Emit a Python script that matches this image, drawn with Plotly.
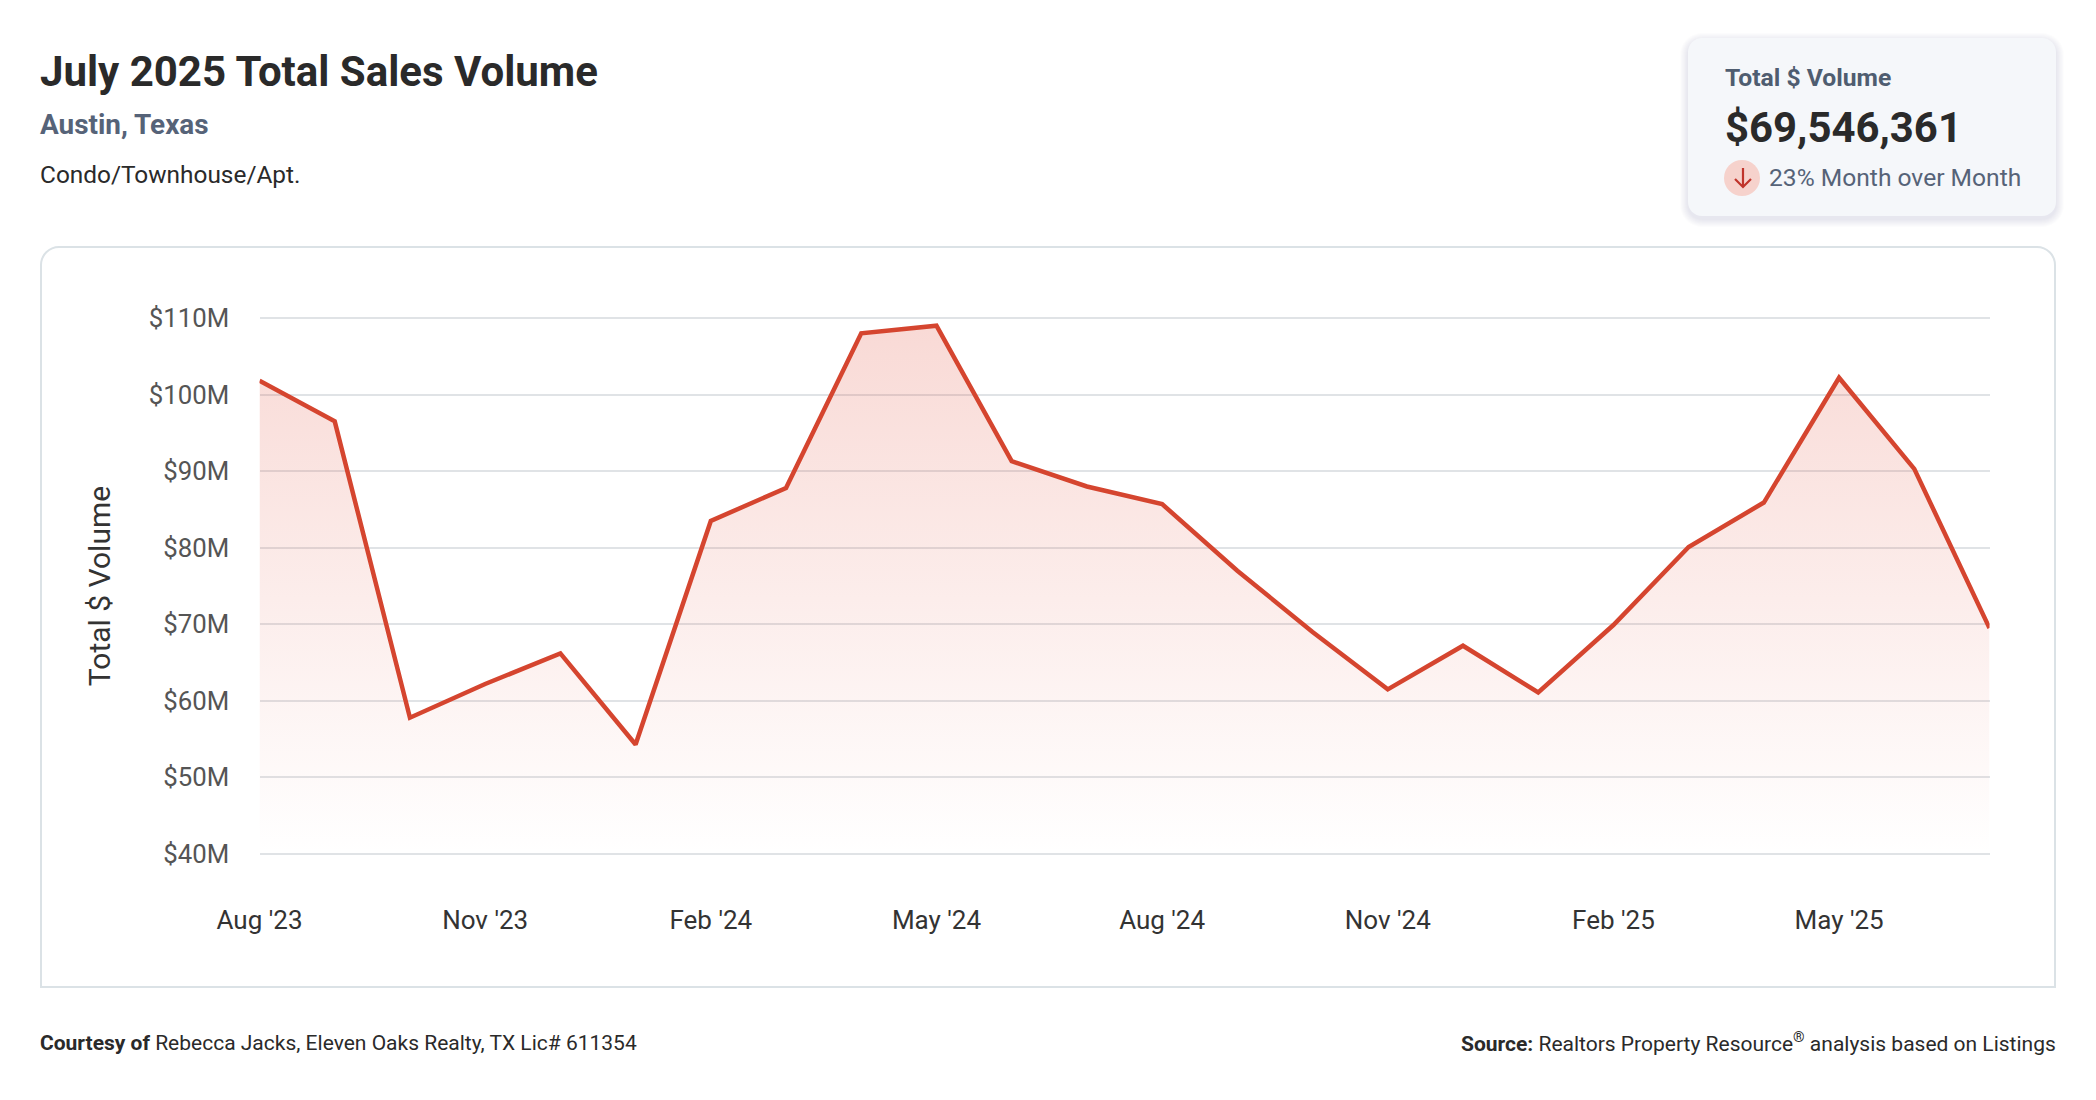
import plotly.graph_objects as go

W, H = 2096, 1100
FONT = "Roboto"

months = ["Aug '23", "Sep '23", "Oct '23", "Nov '23", "Dec '23", "Jan '24", "Feb '24", "Mar '24",
          "Apr '24", "May '24", "Jun '24", "Jul '24", "Aug '24", "Sep '24", "Oct '24", "Nov '24",
          "Dec '24", "Jan '25", "Feb '25", "Mar '25", "Apr '25", "May '25", "Jun '25", "Jul '25"]
volume_m = [101.8, 96.5, 57.8, 62.2, 66.2, 54.3, 83.5, 87.8, 108.0, 109.0, 91.3, 88.0,
            85.7, 77.0, 69.0, 61.5, 67.2, 61.1, 69.9, 80.1, 85.9, 102.2, 90.3, 69.5]
x_ticks = ["Aug '23", "Nov '23", "Feb '24", "May '24", "Aug '24", "Nov '24", "Feb '25", "May '25"]
y_ticks = [40, 50, 60, 70, 80, 90, 100, 110]
y_labels = ["$40M", "$50M", "$60M", "$70M", "$80M", "$90M", "$100M", "$110M"]


def fx(px):
    return px / W


def fy(py):
    return 1 - py / H


def rrect(x0, y0, x1, y1, r, rb=None):
    rb = r if rb is None else rb

    def p(x, y):
        return f"{fx(x):.5f},{fy(y):.5f}"
    k = r * 0.45
    kb = rb * 0.45
    return (f"M{p(x0 + r, y0)} L{p(x1 - r, y0)} C{p(x1 - k, y0)} {p(x1, y0 + k)} {p(x1, y0 + r)} "
            f"L{p(x1, y1 - rb)} C{p(x1, y1 - kb)} {p(x1 - kb, y1)} {p(x1 - rb, y1)} "
            f"L{p(x0 + rb, y1)} C{p(x0 + kb, y1)} {p(x0, y1 - kb)} {p(x0, y1 - rb)} "
            f"L{p(x0, y0 + r)} C{p(x0, y0 + k)} {p(x0 + k, y0)} {p(x0 + r, y0)} Z")


def box(x0, y0, x1, y1, r, fill, line=None, lw=0, rb=None):
    return dict(type="path", xref="paper", yref="paper", path=rrect(x0, y0, x1, y1, r, rb),
                fillcolor=fill, line=dict(color=line or "rgba(0,0,0,0)", width=lw),
                layer="below")


def text(px, py, s, size, color, anchor="left"):
    return dict(xref="paper", yref="paper", x=fx(px), y=fy(py), text=s, showarrow=False,
                xanchor=anchor, yanchor="middle", align=anchor,
                font=dict(family=FONT, size=size, color=color))


shapes = []
# stat-card soft shadow
for i in range(8, 0, -1):
    shapes.append(box(1688 - i, 38 - i + 3, 2056 + i, 216 + i + 3, 14 + i, "rgba(30,40,60,0.012)"))
shapes.append(box(1688, 38, 2056, 216, 14, "#f5f7fa"))
# chart card: rounded top, square bottom
shapes.append(box(41, 247, 2055, 987, 18, "#ffffff", "#dbe2e6", 2, rb=0))
# arrow badge
shapes.append(dict(type="circle", xref="paper", yref="paper", x0=fx(1724), x1=fx(1760),
                   y0=fy(196), y1=fy(160), fillcolor="#f6d2cc", line=dict(width=0), layer="above"))
a = f"M{fx(1743):.5f},{fy(168):.5f} L{fx(1743):.5f},{fy(187):.5f} " \
    f"M{fx(1735):.5f},{fy(179):.5f} L{fx(1743):.5f},{fy(187):.5f} L{fx(1751):.5f},{fy(179):.5f}"
shapes.append(dict(type="path", xref="paper", yref="paper", path=a,
                   line=dict(color="#c0342b", width=2.2), layer="above"))

annotations = [
    text(38.2, 71, "<b>July 2025 Total Sales Volume</b>", 42, "#2a2a2a"),
    text(38.2, 124, "<b>Austin, Texas</b>", 27.9, "#566378"),
    text(38.2, 174, "Condo/Townhouse/Apt.", 24.4, "#2a2a2a"),
    text(1722.5, 77, "<b>Total $ Volume</b>", 24.7, "#4f5d70"),
    text(1722.5, 127, "<b>$69,546,361</b>", 41.9, "#2a2a2a"),
    text(1766.5, 177.5, "23% Month over Month", 24.6, "#566378"),
    text(38.2, 1043, "<b>Courtesy of</b> Rebecca Jacks, Eleven Oaks Realty, TX Lic# 611354", 21, "#2a2a2a"),
    text(2058, 1042, "<b>Source:</b> Realtors Property Resource<sup>®</sup> analysis based on Listings", 21, "#2a2a2a", "right"),
]

fig = go.Figure(go.Scatter(
    x=months, y=volume_m, mode="lines",
    line=dict(color="#d5452f", width=4.5),
    fill="tozeroy",
    fillgradient=dict(type="vertical", start=40, stop=110,
                      colorscale=[[0, "rgba(225,75,55,0.0)"], [1, "rgba(225,75,55,0.21)"]]),
    hoverinfo="skip",
))

fig.update_layout(
    width=W, height=H, margin=dict(l=0, r=0, t=0, b=0),
    paper_bgcolor="#ffffff", plot_bgcolor="rgba(0,0,0,0)",
    showlegend=False, shapes=shapes, annotations=annotations,
    font=dict(family=FONT),
    xaxis=dict(type="category", categoryorder="array", categoryarray=months, automargin=False,
               domain=[fx(259.5), fx(1989.5)], range=[0, len(months) - 1],
               tickmode="array", tickvals=x_ticks, ticktext=x_ticks,
               showgrid=False, zeroline=False, showline=False,
               ticks="outside", ticklen=41, tickcolor="rgba(0,0,0,0)",
               tickfont=dict(family=FONT, size=26, color="#333333")),
    yaxis=dict(domain=[fy(855.3), fy(316.7)], range=[39.83, 110.17], automargin=False,
               tickmode="array", tickvals=y_ticks, ticktext=y_labels,
               showgrid=True, gridcolor="#e0e3e6", gridwidth=1.5, zeroline=False, showline=False,
               ticks="outside", ticklen=24, tickcolor="rgba(0,0,0,0)",
               tickfont=dict(family=FONT, size=25.8, color="#555555"),
               title=dict(text="Total $ Volume", standoff=29,
                          font=dict(family=FONT, size=30, color="#333333"))),
)

fig.write_html("out.html", post_script="document.body.style.margin='0';",
               config=dict(displayModeBar=False))
